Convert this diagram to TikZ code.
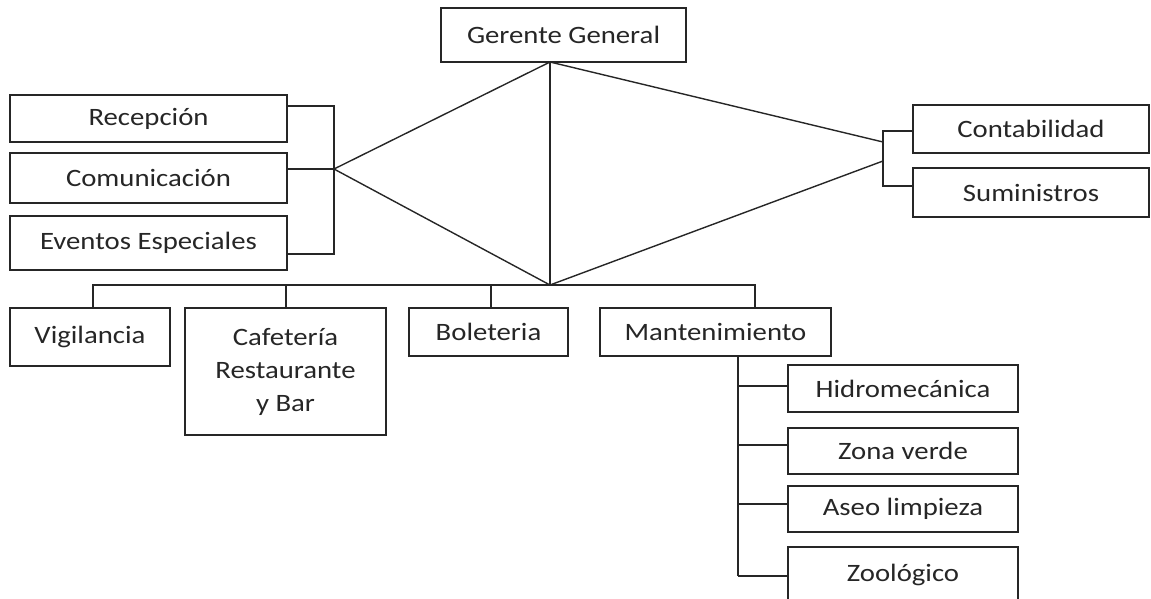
\documentclass[tikz,border=0pt]{standalone}
\usepackage{fontspec}
\setmainfont{Carlito}[FakeStretch=1.15]
\begin{document}
\begin{tikzpicture}[x=1pt,y=-1pt,
  line width=1.4pt,
  box/.style={draw=black!85, rectangle, inner sep=0pt, align=center,
    font=\fontsize{25}{33}\selectfont, text=black!85},
  conn/.style={draw=black!85, line width=1.4pt}]
\useasboundingbox (0,0) rectangle (1151,598);
% boxes: (x1,y1) to (x2,y2)
\newcommand{\mybox}[6]{%
  \node[box, minimum width={#4-#2}, minimum height={#5-#3}] (#1) at ({(#2+#4)/2},{(#3+#5)/2}) {#6};}
\mybox{gg}{441}{8}{686}{62}{Gerente General}
\mybox{rec}{10}{95}{287}{142}{Recepción}
\mybox{com}{10}{153}{287}{203}{Comunicación}
\mybox{eve}{10}{216}{287}{270}{Eventos Especiales}
\mybox{cont}{913}{105}{1149}{153}{Contabilidad}
\mybox{sum}{913}{168}{1149}{217}{Suministros}
\mybox{vig}{10}{308}{170}{366}{Vigilancia}
\mybox{caf}{185}{308}{386}{435}{Cafetería\\Restaurante\\y Bar}
\mybox{bol}{409}{308}{568}{356}{Boleteria}
\mybox{man}{600}{308}{831}{356}{Mantenimiento}
\mybox{hid}{788}{365}{1018}{412}{Hidromecánica}
\mybox{zon}{788}{428}{1018}{474}{Zona verde}
\mybox{ase}{788}{486}{1018}{532}{Aseo limpieza}
\mybox{zoo}{788}{547}{1018}{602}{Zoológico}
% junctions
\coordinate (apex) at (550,62);
\coordinate (hub) at (550,285);
\coordinate (jl) at (334,169);
\coordinate (lb1) at (334,106);
\coordinate (lb3) at (334,254);
\coordinate (jr1) at (883,142);
\coordinate (jr2) at (883,161);
\coordinate (rb1) at (883,131);
\coordinate (rb2) at (883,186);
\coordinate (b1) at (93,285);
\coordinate (b2) at (286,285);
\coordinate (b3) at (491,285);
\coordinate (b4) at (755,285);
\coordinate (s0) at (738,356);
\coordinate (s4) at (738,576);
% top connectors
\draw[conn] (gg.south -| apex) -- (hub);
\draw[conn] (apex) -- (jl) -- (hub);
\draw[conn] (apex) -- (jr1);
\draw[conn] (hub) -- (jr2);
% left bracket
\draw[conn] (rec.east |- lb1) -- (lb1) -- (lb3) -- (eve.east |- lb3);
\draw[conn] (com.east |- jl) -- (jl);
% right bracket
\draw[conn] (cont.west |- rb1) -- (rb1) -- (rb2) -- (sum.west |- rb2);
% bus
\draw[conn] (b1 |- vig.north) -- (b1) -- (b4) -- (b4 |- man.north);
\draw[conn] (b2) -- (b2 |- caf.north);
\draw[conn] (b3) -- (b3 |- bol.north);
% maintenance subtree
\draw[conn] (s0) -- (s4);
\draw[conn] (738,386) -- (hid.west |- 0,386);
\draw[conn] (738,445) -- (zon.west |- 0,445);
\draw[conn] (738,504) -- (ase.west |- 0,504);
\draw[conn] (s4) -- (zoo.west |- s4);
\end{tikzpicture}
\end{document}
